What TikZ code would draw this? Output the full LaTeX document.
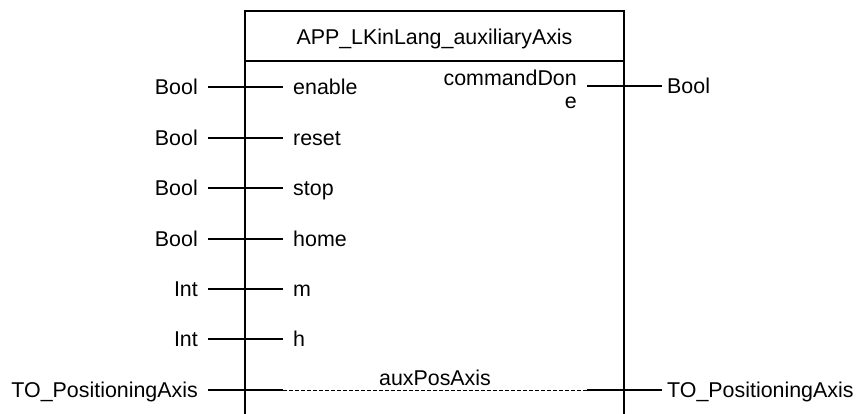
\documentclass[tikz,border=0pt]{standalone}
\usepackage{fontspec}
\setmainfont{Liberation Sans}
\begin{document}
\begin{tikzpicture}[x=1pt,y=-1pt,
    lbl/.style={inner sep=0pt,font=\fontsize{21.4}{24}\selectfont},
    pin/.style={line width=2pt},
    frame/.style={line width=2pt},
    dashpin/.style={line width=0.8pt,dash pattern=on 4pt off 2pt}]
  \useasboundingbox (0,0) rectangle (861,413);
  \clip (0,0) rectangle (861,413);
  \fill[white] (0,0) rectangle (861,413);

  % block frame and title separator
  \draw[frame] (245,430) -- (245,11) -- (624,11) -- (624,430);
  \coordinate (sepL) at (245,61);
  \coordinate (sepR) at (624,61);
  \draw[frame] (sepL) -- (sepR);
  \node[lbl,anchor=base] (title) at (434.5,44) {APP\_LKinLang\_auxiliaryAxis};

  % input pins: type, wire, parameter name
  \foreach \nm/\ty/\yy in {enable/Bool/87, reset/Bool/137.5, stop/Bool/188, home/Bool/238.5, m/Int/289, h/Int/339}{
    \coordinate (\nm-a) at (208,\yy);
    \coordinate (\nm-b) at (283,\yy);
    \draw[pin] (\nm-a) -- (\nm-b);
    \node[lbl,anchor=base east] (\nm-type) at (198,\yy+7.7) {\ty};
    \node[lbl,anchor=base west] (\nm-name) at (293,\yy+7.7) {\nm};
  }

  % output pin commandDone
  \coordinate (cd-a) at (587,86);
  \coordinate (cd-b) at (662,86);
  \draw[pin] (cd-a) -- (cd-b);
  \node[lbl,anchor=base east] (cd-name1) at (577,85) {commandDon};
  \node[lbl,anchor=base east] (cd-name2) at (577,108.5) {e};
  \node[lbl,anchor=base west] (cd-type) at (667,93.7) {Bool};

  % in/out pin auxPosAxis
  \coordinate (ax-a) at (208,390);
  \coordinate (ax-b) at (283,390);
  \coordinate (ax-c) at (587,390);
  \coordinate (ax-d) at (662,390);
  \draw[pin] (ax-a) -- (ax-b);
  \draw[dashpin] (ax-b) -- (ax-c);
  \draw[pin] (ax-c) -- (ax-d);
  \node[lbl,anchor=base] (ax-name) at (435,385) {auxPosAxis};
  \node[lbl,anchor=base east] (ax-typeL) at (198,397.7) {TO\_PositioningAxis};
  \node[lbl,anchor=base west] (ax-typeR) at (667,397.7) {TO\_PositioningAxis};
\end{tikzpicture}
\end{document}
